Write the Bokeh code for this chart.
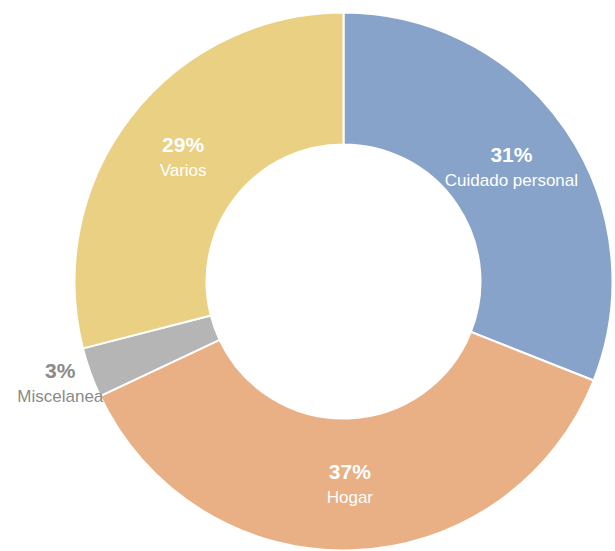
import math
from bokeh.plotting import figure
from bokeh.models import Range1d, ColumnDataSource
from bokeh.core.properties import value
from bokeh.embed import file_html
from bokeh.resources import INLINE

categories = ["Cuidado personal", "Hogar", "Miscelanea", "Varios"]
values = [31, 37, 3, 29]
colors = ["#87a3c9", "#e8b084", "#b5b5b5", "#ead082"]
inside = [True, True, False, True]

W, H = 615, 551
cx, cy = 343, H - 281
r_out, r_in = 269, 137

total = float(sum(values))
starts, ends, mids = [], [], []
cum = 0.0
for v in values:
    a0 = math.radians(90 - 360 * (cum + v) / total)
    a1 = math.radians(90 - 360 * cum / total)
    starts.append(a0)
    ends.append(a1)
    mids.append((a0 + a1) / 2)
    cum += v

p = figure(width=W, height=H, output_backend="svg", toolbar_location=None,
           x_range=Range1d(0, W), y_range=Range1d(0, H), min_border=0)
p.axis.visible = False
p.grid.visible = False
p.outline_line_color = None
p.background_fill_color = "white"
p.border_fill_color = "white"

src = ColumnDataSource(dict(start=starts, end=ends, color=colors))
p.annular_wedge(x=cx, y=cy, inner_radius=r_in, outer_radius=r_out,
                start_angle="start", end_angle="end", direction="anticlock",
                fill_color="color", line_color="white", line_width=2, source=src)

r_lab_in = (r_in + r_out) / 2
r_lab_out = 301
lx, ly, pct, names, tcol = [], [], [], [], []
for cat, v, m, ins in zip(categories, values, mids, inside):
    r = r_lab_in if ins else r_lab_out
    lx.append(cx + r * math.cos(m))
    ly.append(cy + r * math.sin(m))
    pct.append(f"{round(100 * v / total)}%")
    names.append(cat)
    tcol.append("white" if ins else "#8a8a8a")

lsrc = ColumnDataSource(dict(x=lx, y=ly, pct=pct, name=names, col=tcol))
p.text(x="x", y="y", text="pct", source=lsrc, text_color="col",
       text_font=value("Liberation Sans"), text_font_style="bold",
       text_font_size="21px", text_align="center", text_baseline="middle",
       y_offset=-13)
p.text(x="x", y="y", text="name", source=lsrc, text_color="col",
       text_font=value("Liberation Sans"), text_font_size="17px",
       text_align="center", text_baseline="middle", y_offset=13)

open("out.html", "w").write(file_html(p, INLINE))
